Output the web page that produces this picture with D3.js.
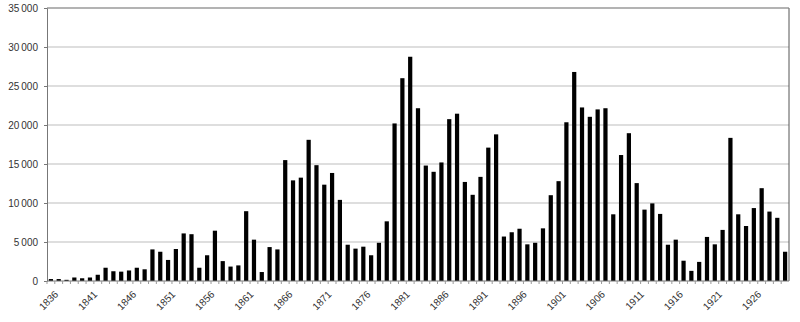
<!DOCTYPE html>
<html>
<head>
<meta charset="utf-8">
<script src="https://cdn.jsdelivr.net/npm/d3@7"></script>
<style>
  body { margin: 0; background: #fff; }
  svg text { font-family: "Liberation Sans", Arial, sans-serif; }
</style>
</head>
<body>
<div id="chart"></div>
<script>
let years = d3.range(1836, 1931);
let values = [
  250, 250, 150, 450, 350, 450, 800, 1700, 1250, 1200,
  1350, 1700, 1500, 4050, 3750, 2700, 4100, 6100, 6000, 1700,
  3300, 6450, 2550, 1850, 2000, 8950, 5300, 1150, 4350, 4050,
  15500, 12900, 13250, 18100, 14850, 12350, 13850, 10400, 4650, 4150,
  4400, 3300, 4900, 7650, 20200, 26000, 28750, 22150, 14800, 14000,
  15200, 20750, 21450, 12700, 11050, 13350, 17100, 18800, 5700, 6250,
  6700, 4700, 4900, 6750, 11000, 12800, 20350, 26800, 22250, 21050,
  22000, 22150, 8550, 16150, 18950, 12550, 9150, 9950, 8600, 4650,
  5300, 2600, 1300, 2450, 5650, 4700, 6550, 18350, 8550, 7050,
  9350, 11900, 8900, 8100, 3750
];
let yTicks = [0, 5000, 10000, 15000, 20000, 25000, 30000, 35000];
let labelYears = years.filter(y => (y - 1836) % 5 === 0);

let width = 800;
let height = 322;
let margin = { top: 8, right: 11, bottom: 41, left: 47 };
let innerW = width - margin.left - margin.right;
let innerH = height - margin.top - margin.bottom;

let svg = d3.select('#chart')
  .append('svg')
  .attr('width', width)
  .attr('height', height);

let g = svg.append('g')
  .attr('transform', `translate(${margin.left},${margin.top})`);

let x = d3.scaleBand()
  .domain(years)
  .range([0, innerW])
  .paddingInner(0.46)
  .paddingOuter(0.23);

let y = d3.scaleLinear()
  .domain([0, 35000])
  .range([innerH, 0]);

// gridlines
g.selectAll('.grid')
  .data(yTicks.slice(1))
  .enter()
  .append('line')
  .attr('x1', 0)
  .attr('x2', innerW)
  .attr('y1', d => y(d))
  .attr('y2', d => y(d))
  .attr('stroke', '#bdbdbd')
  .attr('stroke-width', 1);

// right border
g.append('line')
  .attr('x1', innerW).attr('x2', innerW)
  .attr('y1', 0).attr('y2', innerH)
  .attr('stroke', '#555');

// bars
g.selectAll('.bar')
  .data(values)
  .enter()
  .append('rect')
  .attr('x', (d, i) => x(years[i]))
  .attr('width', x.bandwidth())
  .attr('y', d => y(d))
  .attr('height', d => innerH - y(d))
  .attr('fill', '#000');

// y axis
let fmt = d => d3.format(',')(d).replace(/,/g, '\u2009');
let yAxis = g.append('g')
  .call(d3.axisLeft(y).tickValues(yTicks).tickSize(3).tickFormat(fmt));
yAxis.select('.domain').attr('stroke', '#777');
yAxis.selectAll('line').attr('stroke', '#777');
yAxis.selectAll('text')
  .attr('font-size', 10)
  .attr('fill', '#333')
  .attr('x', -9);

// x axis line + small ticks between bars
g.append('line')
  .attr('x1', 0).attr('x2', innerW)
  .attr('y1', innerH).attr('y2', innerH)
  .attr('stroke', '#777');

g.selectAll('.xtick')
  .data(years)
  .enter()
  .append('line')
  .attr('x1', d => x(d) - x.step() * 0.23)
  .attr('x2', d => x(d) - x.step() * 0.23)
  .attr('y1', innerH)
  .attr('y2', innerH + 3)
  .attr('stroke', '#999');

// rotated year labels (-45 degrees, as a matrix)
let c = Math.SQRT1_2;
g.selectAll('.xlabel')
  .data(labelYears)
  .enter()
  .append('text')
  .attr('transform', d => `matrix(${c},${-c},${c},${c},${x(d) + x.bandwidth() / 2 + 3},${innerH + 9})`)
  .attr('text-anchor', 'end')
  .attr('dy', '0.7em')
  .attr('font-size', 10)
  .attr('fill', '#333')
  .text(d => d);

// top border
g.append('line')
  .attr('x1', 0).attr('x2', innerW)
  .attr('y1', 0).attr('y2', 0)
  .attr('stroke', '#888');
</script>
</body>
</html>
